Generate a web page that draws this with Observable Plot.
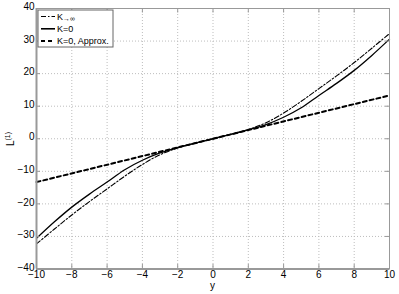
<!DOCTYPE html>
<html><head><meta charset="utf-8">
<script src="https://cdn.jsdelivr.net/npm/d3@7"></script>
<script src="https://cdn.jsdelivr.net/npm/@observablehq/plot@0.6"></script>
<style>body{margin:0;background:#fff} #chart svg{display:block}</style>
</head><body><div id="chart"></div>
<script>
const yPts = [-10,-9,-8,-7,-6,-5,-4,-3,-2,-1,0,1,2,3,4,5,6,7,8,9,10];
const kInf = [-32.3,-27.8,-23.4,-19.3,-15.4,-11.5,-7.9,-4.9,-2.85,-1.35,0,1.35,2.85,4.9,7.9,11.5,15.4,19.3,23.4,27.8,32.3];
const k0   = [-30.6,-25.6,-21.0,-17.0,-13.3,-9.5,-6.6,-4.35,-2.75,-1.34,0,1.34,2.75,4.35,6.6,9.5,13.3,17.0,21.0,25.6,30.6];
const approxPts = [-10, 10];
const approxVals = [-13.3, 13.3];
const xTicks = [-10,-8,-6,-4,-2,0,2,4,6,8,10];
const yTicks = [-40,-30,-20,-10,0,10,20,30,40];
const seriesNames = ["K\u2192\u221e", "K=0", "K=0, Approx."];
const xLabel = "y";

const styles = [
  {strokeWidth: 1.1, dash: "5,2,1.5,2"},
  {strokeWidth: 1.3, dash: null},
  {strokeWidth: 2, dash: "4,3"}
];

const rowsInf = yPts.map((y, i) => ({y, v: kInf[i]}));
const rows0 = yPts.map((y, i) => ({y, v: k0[i]}));
const rowsA = approxPts.map((y, i) => ({y, v: approxVals[i]}));

const chart = Plot.plot({
  width: 399, height: 294,
  marginLeft: 36, marginRight: 10, marginTop: 8, marginBottom: 25.5,
  style: {fontFamily: "'Liberation Sans', Arial, sans-serif", fontSize: "10px", background: "#fff", color: "#000", overflow: "visible"},
  x: {domain: [-10, 10]},
  y: {domain: [-40, 40]},
  marks: [
    Plot.gridX(xTicks, {stroke: "#bdbdbd", strokeOpacity: 1, strokeDasharray: "1,2"}),
    Plot.gridY(yTicks, {stroke: "#bdbdbd", strokeOpacity: 1, strokeDasharray: "1,2"}),
    Plot.line(rowsA, {x: "y", y: "v", stroke: "#000", strokeWidth: styles[2].strokeWidth, strokeDasharray: styles[2].dash}),
    Plot.line(rows0, {x: "y", y: "v", curve: "catmull-rom", stroke: "#000", strokeWidth: styles[1].strokeWidth}),
    Plot.line(rowsInf, {x: "y", y: "v", curve: "catmull-rom", stroke: "#000", strokeWidth: styles[0].strokeWidth, strokeDasharray: styles[0].dash}),
    Plot.frame({stroke: "#999", strokeWidth: 1}),
    Plot.ruleX([-10], {stroke: "#999", strokeWidth: 2}),
    Plot.ruleY([-40], {stroke: "#999", strokeWidth: 2}),
    Plot.tickX(xTicks, {x: d => d, insetTop: 256, stroke: "#999"}),
    Plot.tickX(xTicks, {x: d => d, insetBottom: 256, stroke: "#999"}),
    Plot.tickY(yTicks, {y: d => d, insetRight: 349, stroke: "#999"}),
    Plot.tickY(yTicks, {y: d => d, insetLeft: 349, stroke: "#999"}),
    Plot.axisX(xTicks, {tickSize: 0, tickPadding: 2, label: null}),
    Plot.axisY(yTicks, {tickSize: 0, tickPadding: 2, dy: -1.5, label: null})
  ]
});
document.getElementById("chart").appendChild(chart);

const svg = d3.select(chart);
// axis titles
svg.append("text").attr("x", 212.5).attr("y", 289).attr("text-anchor", "middle")
  .attr("font-size", 10).text(xLabel);
const yl = svg.append("text").attr("transform", "translate(14,139) rotate(-90)")
  .attr("text-anchor", "middle").attr("font-size", 10);
yl.append("tspan").text("L");
yl.append("tspan").attr("font-size", 7).attr("dy", -4).text("(1)");

// legend
const lg = svg.append("g").attr("transform", "translate(38,10)");
lg.append("rect").attr("width", 75).attr("height", 37).attr("fill", "#fff").attr("stroke", "#666").attr("stroke-width", 1);
seriesNames.forEach((name, i) => {
  const yy = 6.5 + i * 12.3;
  lg.append("line").attr("x1", 3).attr("x2", 17).attr("y1", yy).attr("y2", yy)
    .attr("stroke", "#000").attr("stroke-width", i === 1 ? 1.6 : styles[i].strokeWidth)
    .attr("stroke-dasharray", styles[i].dash);
  const t = lg.append("text").attr("x", 19).attr("y", yy + 3.3).attr("font-size", 9)
    .attr("text-anchor", "start");
  if (i === 0) {
    t.append("tspan").text("K");
    t.append("tspan").attr("font-size", 7).attr("dy", 1).text("\u2192\u221e");
  } else {
    t.text(name);
  }
});
</script>
</body></html>
